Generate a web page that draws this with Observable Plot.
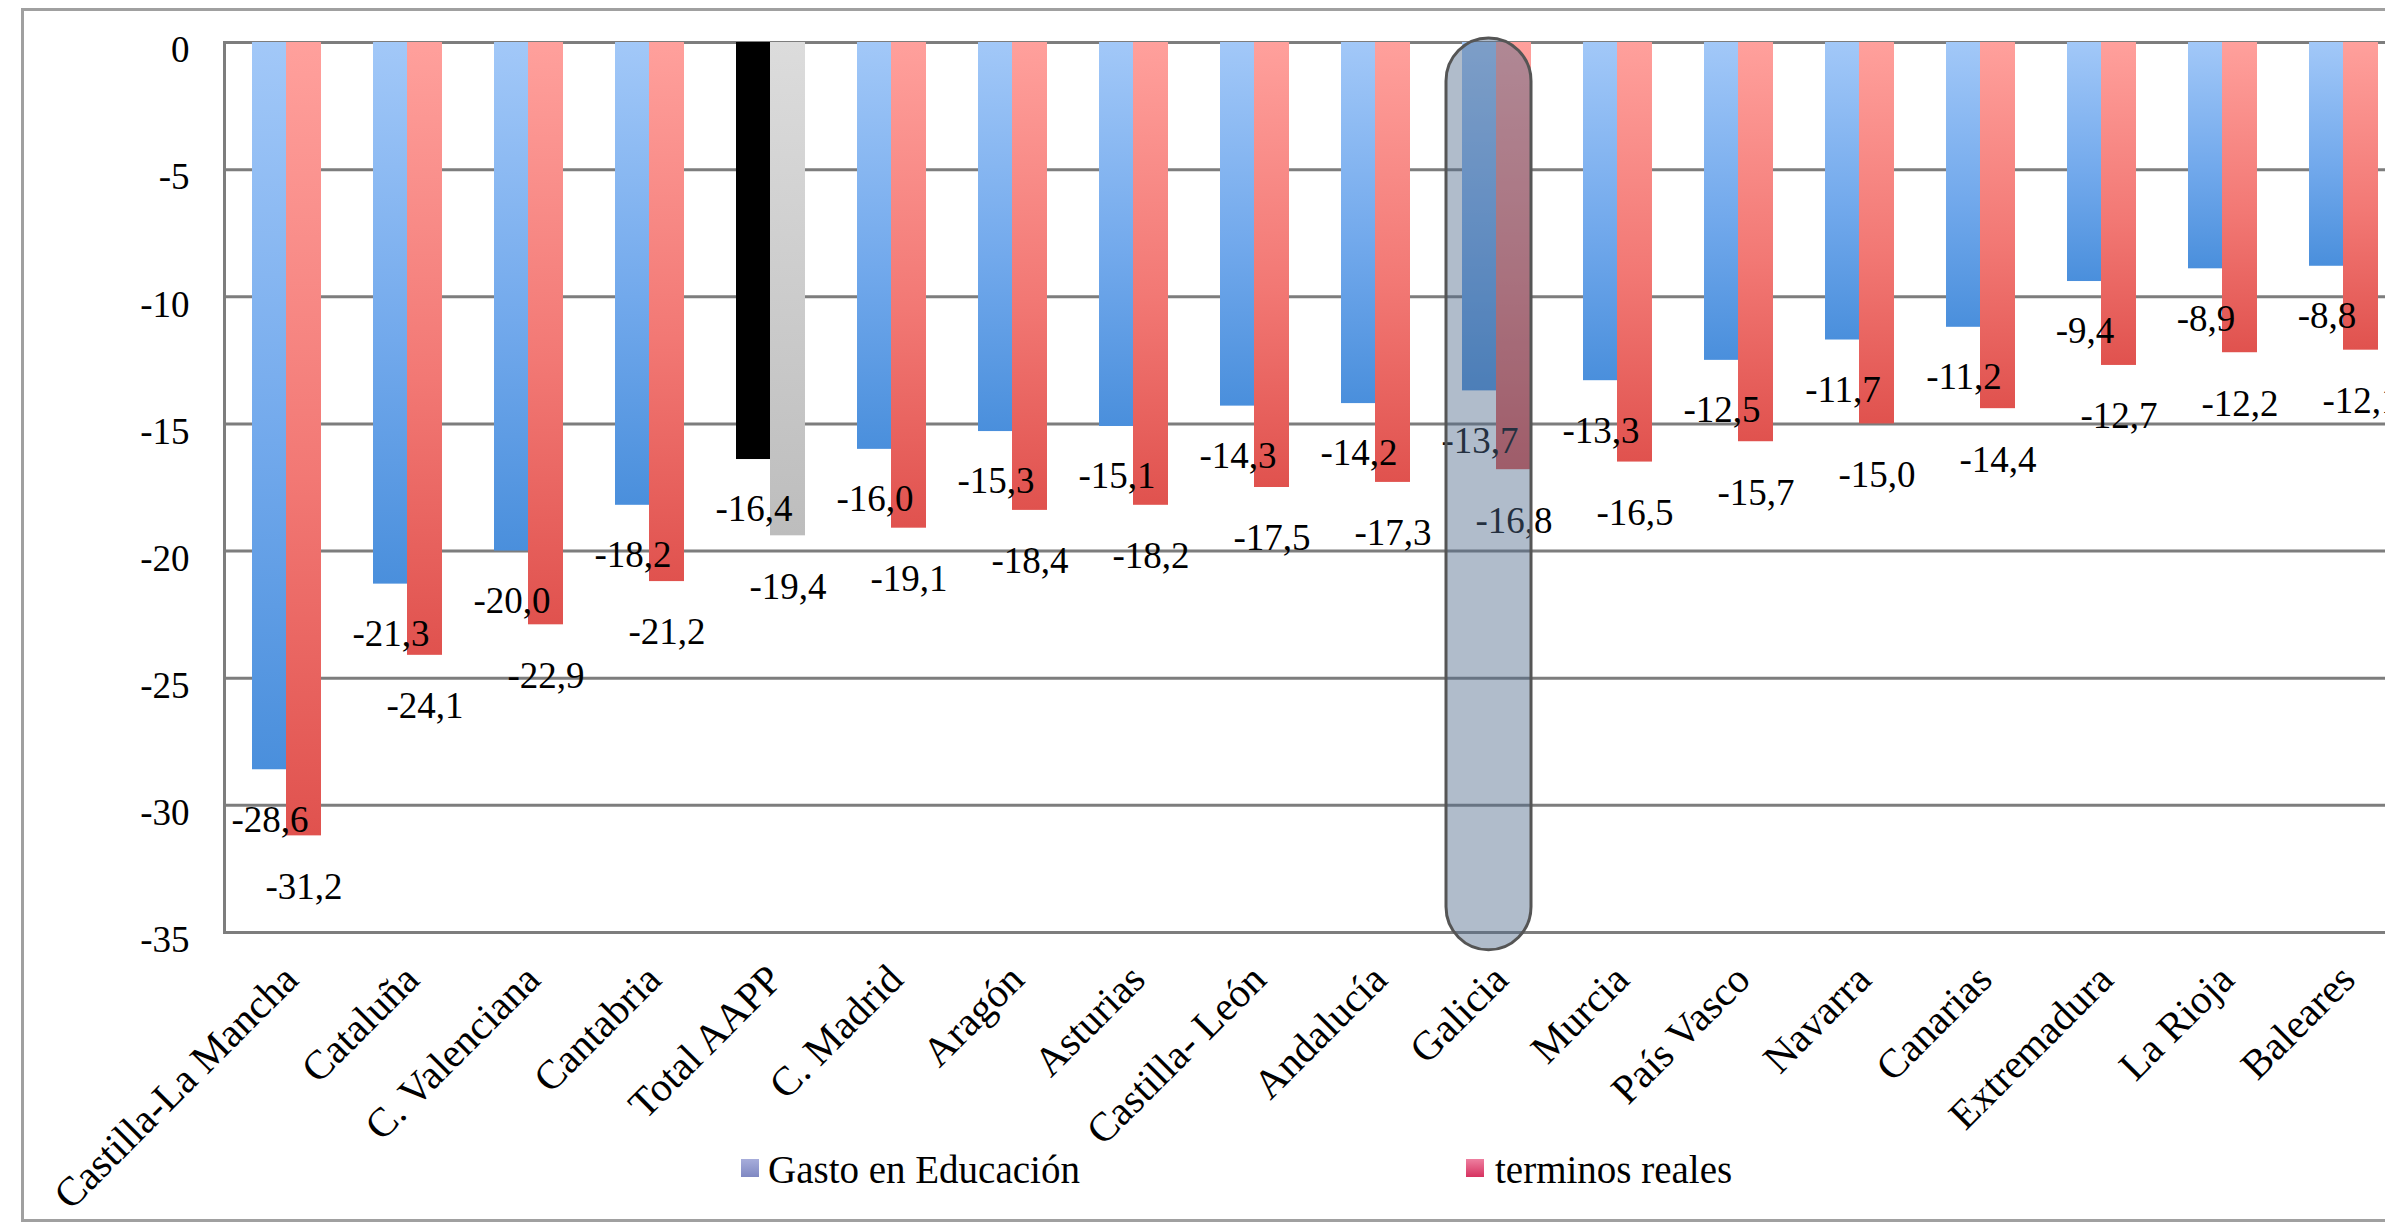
<!DOCTYPE html>
<html>
<head>
<meta charset="utf-8">
<script src="https://cdn.jsdelivr.net/npm/d3@7"></script>
<script src="https://cdn.jsdelivr.net/npm/@observablehq/plot@0.6"></script>
<style>
  html, body { margin: 0; padding: 0; background: #ffffff; }
  #wrap { position: relative; width: 2385px; height: 1228px; overflow: hidden; background: #ffffff; }
  #border { position: absolute; left: 21px; top: 8px; width: 2500px; height: 1214px; border: 3px solid #a0a0a0; box-sizing: border-box; }
  #chart { position: absolute; left: 0; top: 0; }
  .leg { position: absolute; font-family: "Times New Roman", "Liberation Serif", "DejaVu Serif", serif; font-size: 39px; line-height: 38px; color: #000; white-space: nowrap; }
  .sw { position: absolute; width: 18px; height: 18px; }
</style>
</head>
<body>
<div id="wrap">
  <div id="border"></div>
  <div id="chart"></div>
  <div class="sw" style="left:741px; top:1159px; background: linear-gradient(#a7addb, #7f88c2);"></div>
  <div class="leg" style="left:768px; top:1151px;">Gasto en Educación</div>
  <div class="sw" style="left:1466px; top:1159px; background: linear-gradient(#ee7fa0, #d63260);"></div>
  <div class="leg" style="left:1495px; top:1151px;">terminos reales</div>
</div>
<script>
const categories = ["Castilla-La Mancha","Cataluña","C. Valenciana","Cantabria","Total AAPP","C. Madrid","Aragón","Asturias","Castilla- León","Andalucía","Galicia","Murcia","País Vasco","Navarra","Canarias","Extremadura","La Rioja","Baleares"];
const gastoEducacion = [-28.6,-21.3,-20.0,-18.2,-16.4,-16.0,-15.3,-15.1,-14.3,-14.2,-13.7,-13.3,-12.5,-11.7,-11.2,-9.4,-8.9,-8.8];
const terminosReales = [-31.2,-24.1,-22.9,-21.2,-19.4,-19.1,-18.4,-18.2,-17.5,-17.3,-16.8,-16.5,-15.7,-15.0,-14.4,-12.7,-12.2,-12.1];
const yTicks = [0,-5,-10,-15,-20,-25,-30,-35];
const highlighted = ["Galicia"];
const totalLabel = "Total AAPP";

const rows = categories.map((c, i) => ({cat: c, edu: gastoEducacion[i], real: terminosReales[i]}));
const fmt = v => (v < 0 ? "-" : "") + Math.abs(v).toFixed(1).replace(".", ",");
const font = "'Times New Roman', 'Liberation Serif', 'DejaVu Serif', serif";

const chart = Plot.plot({
  width: 2385,
  height: 1228,
  marginLeft: 224,
  marginRight: 0,
  marginTop: 42,
  marginBottom: 296,
  style: {fontFamily: font, background: "transparent", color: "#000", overflow: "visible"},
  x: {domain: categories, range: [224, 2403], padding: 0},
  y: {domain: [-35, 0]},
  marks: [
    Plot.ruleY(yTicks, {stroke: "#7d7d7d", strokeWidth: 3}),
    Plot.frame({anchor: "left", stroke: "#7d7d7d", strokeWidth: 3}),
    Plot.barY(rows, {
      x: "cat", y: "edu",
      fill: d => d.cat === totalLabel ? "#000000" : "url(#gBlue)",
      insetLeft: 27, insetRight: 60
    }),
    Plot.barY(rows, {
      x: "cat", y: "real",
      fill: d => d.cat === totalLabel ? "url(#gGrey)" : "url(#gRed)",
      insetLeft: 61, insetRight: 25
    }),
    Plot.text(rows, {x: "cat", y: "edu", text: d => fmt(d.edu), dx: -16, dy: 50, fontSize: 37, fill: "#000", fontFamily: font}),
    Plot.text(rows, {x: "cat", y: "real", text: d => fmt(d.real), dx: 18, dy: 51, fontSize: 37, fill: "#000", fontFamily: font}),
    Plot.barY(highlighted.map(c => ({cat: c})), {
      x: "cat", y1: 0.16, y2: -35.7,
      insetLeft: 11, insetRight: 25, rx: 43,
      fill: "#506b8c", fillOpacity: 0.45, stroke: "#555555", strokeWidth: 3
    }),
    Plot.axisY({ticks: yTicks, tickSize: 0, tickPadding: 35, dy: 8, fontSize: 37, fontFamily: font,
      tickFormat: d => d === 0 ? "0" : "-" + Math.abs(d), label: null}),
    Plot.axisX({tickSize: 0, tickPadding: 20, tickRotate: -45, fontSize: 41, fontFamily: font, dx: 5, dy: 20, label: null})
  ]
});

const svg = d3.select(chart);
const defs = svg.insert("defs", ":first-child");
function grad(id, stops) {
  const g = defs.append("linearGradient").attr("id", id).attr("x1", 0).attr("y1", 0).attr("x2", 0).attr("y2", 1);
  stops.forEach(([o, c]) => g.append("stop").attr("offset", o).attr("stop-color", c));
}
grad("gBlue", [[0, "#a2c8f8"], [0.55, "#72a9ec"], [1, "#4a8fdc"]]);
grad("gRed", [[0, "#ffa09c"], [0.55, "#f27874"], [1, "#e0524e"]]);
grad("gGrey", [[0, "#dcdcdc"], [1, "#bdbdbd"]]);

document.getElementById("chart").appendChild(chart);
</script>
</body>
</html>
